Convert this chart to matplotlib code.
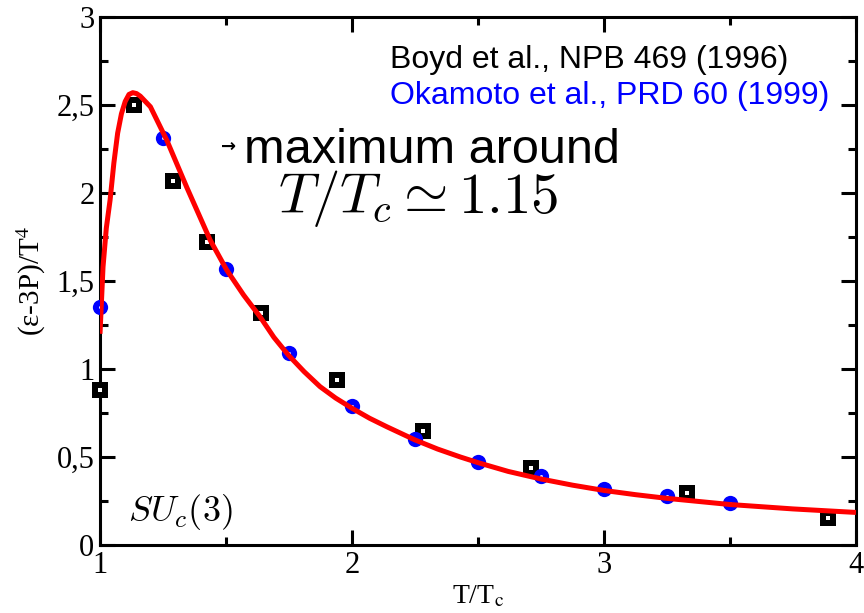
import matplotlib
matplotlib.use("Agg")
import matplotlib.pyplot as plt
from matplotlib.ticker import MultipleLocator, FuncFormatter

# Boyd et al. (quadrados pretos)
boyd_x = [1.0, 1.135, 1.29, 1.425, 1.64, 1.94, 2.28, 2.71, 3.33, 3.89]
boyd_y = [0.88, 2.50, 2.07, 1.72, 1.32, 0.94, 0.65, 0.44, 0.295, 0.155]

# Okamoto et al. (circulos azuis)
oka_x = [1.0, 1.25, 1.5, 1.75, 2.0, 2.25, 2.5, 2.75, 3.0, 3.25, 3.5]
oka_y = [1.35, 2.31, 1.57, 1.09, 0.79, 0.60, 0.47, 0.39, 0.32, 0.28, 0.24]

# curva vermelha
curve_x = [1.0, 1.012, 1.025, 1.04, 1.055, 1.07, 1.085, 1.1, 1.115, 1.13, 1.145, 1.16,
           1.2, 1.265, 1.345, 1.437, 1.503, 1.57, 1.635, 1.69, 1.747, 1.81, 1.873,
           1.935, 2.0, 2.07, 2.138, 2.25, 2.34, 2.43, 2.5, 2.62, 2.75, 2.875, 3.0,
           3.125, 3.25, 3.5, 3.75, 4.0]
curve_y = [1.2, 1.58, 1.80, 1.96, 2.17, 2.34, 2.45, 2.52, 2.56, 2.57, 2.565, 2.55,
           2.49, 2.30, 2.03, 1.733, 1.562, 1.42, 1.297, 1.18, 1.08, 0.985, 0.90,
           0.835, 0.777, 0.72, 0.672, 0.597, 0.545, 0.50, 0.468, 0.418, 0.375,
           0.34, 0.31, 0.286, 0.265, 0.23, 0.205, 0.185]

yticks = [0, 0.5, 1, 1.5, 2, 2.5, 3]
xticks = [1, 2, 3, 4]

fig = plt.figure(figsize=(8.64, 6.13), dpi=100)
ax = fig.add_axes([100/864, 68/613, 756/864, 528/613])

ax.plot(curve_x, curve_y, color='red', lw=3.6, zorder=4, solid_capstyle='butt')
ax.plot(boyd_x, boyd_y, 's', color='black', ms=11.5, mew=0, zorder=3, clip_on=False)
ax.plot(boyd_x, boyd_y, 's', color='white', ms=2.2, mew=0, zorder=3.1, clip_on=False)
ax.plot(oka_x, oka_y, 'o', color='#0000ff', ms=11, mew=0, zorder=3, clip_on=False)
ax.plot(oka_x, oka_y, 'o', color='#d8d8ff', ms=2.2, mew=0, zorder=3.1, clip_on=False)

ax.set_xlim(1, 4)
ax.set_ylim(0, 3)
ax.set_xticks(xticks)
ax.set_yticks(yticks)
ax.xaxis.set_minor_locator(MultipleLocator(0.5))
ax.yaxis.set_minor_locator(MultipleLocator(0.25))
ax.yaxis.set_major_formatter(FuncFormatter(lambda v, p: ('%g' % v).replace('.', ',')))
ax.tick_params(which='both', direction='in', top=True, right=True, width=2.2)
ax.tick_params(which='major', length=11, pad=4)
ax.tick_params(which='minor', length=6)
for lab in ax.get_xticklabels() + ax.get_yticklabels():
    lab.set_family('Liberation Serif')
    lab.set_fontsize(22)
for s in ax.spines.values():
    s.set_linewidth(2.2)

ax.set_xlabel(r'T/T$_\mathrm{c}$', family='Liberation Serif', fontsize=20,
              math_fontfamily='stix', labelpad=3)
ax.set_ylabel(r'(ε-3P)/T$^4$', family='Liberation Serif', fontsize=21,
              math_fontfamily='stix', labelpad=6)

fig.text(390/864, 1 - 68/613, 'Boyd et al., NPB 469 (1996)', family='Liberation Sans',
         fontsize=23, color='black', va='baseline')
fig.text(390/864, 1 - 104/613, 'Okamoto et al., PRD 60 (1999)', family='Liberation Sans',
         fontsize=23, color='#0000ff', va='baseline')
fig.text(221/864, 1 - 147/613, '→', family='DejaVu Sans', fontsize=13,
         fontweight='bold', va='center')
fig.text(244/864, 1 - 163/613, 'maximum around', family='Liberation Sans',
         fontsize=35, va='baseline')
fig.text(278/864, 1 - 213/613, r'$T/T_c \simeq 1.15$', fontsize=41,
         math_fontfamily='cm', va='baseline')
fig.text(128/864, 1 - 521/613, r'$SU_c(3)$', fontsize=26,
         math_fontfamily='cm', va='baseline')

fig.savefig('out.png', dpi=100)
